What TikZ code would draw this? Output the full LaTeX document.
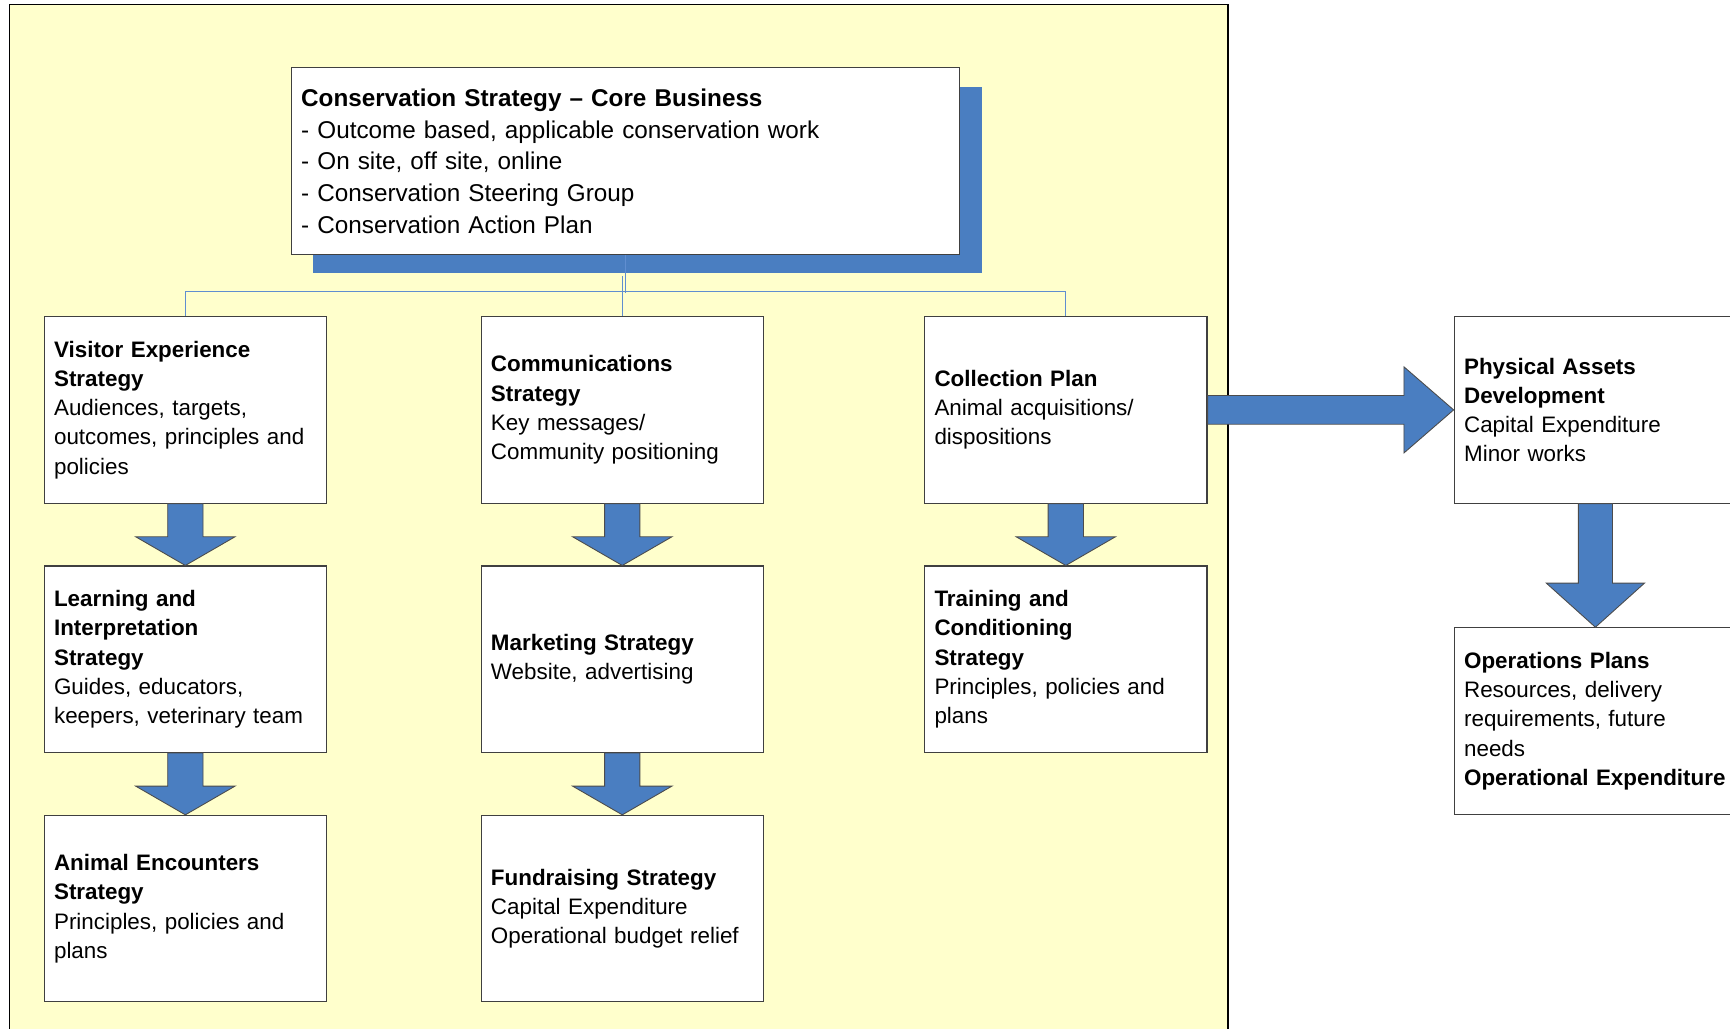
\documentclass[tikz,border=0pt]{standalone}
\usepackage{fontspec}
\setmainfont{Liberation Sans}
\usetikzlibrary{calc,shadows}

\definecolor{panelyellow}{RGB}{255,255,204}
\definecolor{arrowblue}{RGB}{74,126,193}
\definecolor{linkblue}{RGB}{96,142,208}

% block arrow downwards: from, to, shaft half width, head half width, head length
\newcommand{\downblock}[5]{%
  \draw[blockarrow] ($(#1.south)+(-#3,0)$) -- ($(#1.south)+(#3,0)$)
    -- ($(#2.north)+(#3,-#5)$) -- ($(#2.north)+(#4,-#5)$) -- (#2.north)
    -- ($(#2.north)+(-#4,-#5)$) -- ($(#2.north)+(-#3,-#5)$) -- cycle;}
% block arrow to the right: from, to, shaft half height, head half height, head length
\newcommand{\rightblock}[5]{%
  \draw[blockarrow] ($(#1.east)+(0,-#3)$) -- ($(#2.west)+(-#5,-#3)$)
    -- ($(#2.west)+(-#5,-#4)$) -- (#2.west) -- ($(#2.west)+(-#5,#4)$)
    -- ($(#2.west)+(-#5,#3)$) -- ($(#1.east)+(0,#3)$) -- cycle;}

\begin{document}
\begin{tikzpicture}
  [x=1pt,y=-1pt,
   box/.style={rectangle,draw=black!75,line width=1pt,fill=white,
     text width=238pt,inner xsep=9pt,inner ysep=0pt,minimum height=169pt,
     align=left,font=\fontsize{20.3pt}{26.5pt}\selectfont},
   corebox/.style={box,text width=588pt,font=\fontsize{22pt}{28.75pt}\selectfont,
     drop shadow={shadow xshift=20pt,shadow yshift=-17pt,fill=arrowblue,opacity=1}},
   link/.style={draw=linkblue,line width=1pt},
   blockarrow/.style={fill=arrowblue,draw=black!70,line width=0.8pt,line join=miter}]
  \useasboundingbox (0,0) rectangle (1568,932);

  % background panel
  \draw[fill=panelyellow,line width=1pt] (9,960) -- (9,4) -- (1113,4) -- (1113,960);

  % core business
  \node[corebox] (core) at (567,146) {\textbf{Conservation Strategy – Core Business}\\
    - Outcome based, applicable conservation work\\
    - On site, off site, online\\
    - Conservation Steering Group\\
    - Conservation Action Plan};

  % strategies
  \node[box] (visitor) at (168,371.5) {\textbf{Visitor Experience}\\\textbf{Strategy}\\
    Audiences, targets,\\outcomes, principles and\\policies};
  \node[box] (learning) at (168,597.5) {\textbf{Learning and}\\\textbf{Interpretation}\\
    \textbf{Strategy}\\Guides, educators,\\keepers, veterinary team};
  \node[box] (encounter) at (168,823.5) {\textbf{Animal Encounters}\\\textbf{Strategy}\\
    Principles, policies and\\plans};
  \node[box] (comms) at (564,371.5) {\textbf{Communications}\\\textbf{Strategy}\\
    Key messages/\\Community positioning};
  \node[box] (marketing) at (564,597.5) {\textbf{Marketing Strategy}\\Website, advertising};
  \node[box] (fundraise) at (564,823.5) {\textbf{Fundraising Strategy}\\Capital Expenditure\\
    Operational budget relief};
  \node[box] (collection) at (966,371.5) {\textbf{Collection Plan}\\Animal acquisitions/\\
    dispositions};
  \node[box] (training) at (966,597.5) {\textbf{Training and}\\\textbf{Conditioning}\\
    \textbf{Strategy}\\Principles, policies and\\plans};

  % outside the panel
  \node[box] (assets) at (1446,371.5) {\textbf{Physical Assets}\\\textbf{Development}\\
    Capital Expenditure\\Minor works};
  \node[box] (operations) at (1446,653.5) {\textbf{Operations Plans}\\Resources, delivery\\
    requirements, future\\needs\\\textbf{Operational Expenditure}};

  % tree lines
  \draw[link] (core.south) -- ++(0,35);
  \draw[link] (visitor.north) -- ++(0,-22) -| (collection.north);
  \draw[link] (comms.north) -- ++(0,-36);

  % block arrows
  \downblock{visitor}{learning}{16}{45}{26}
  \downblock{learning}{encounter}{16}{45}{26}
  \downblock{comms}{marketing}{16}{45}{26}
  \downblock{marketing}{fundraise}{16}{45}{26}
  \downblock{collection}{training}{16}{45}{26}
  \rightblock{collection}{assets}{13}{39}{45}
  \downblock{assets}{operations}{15.5}{44.5}{40}
\end{tikzpicture}
\end{document}
